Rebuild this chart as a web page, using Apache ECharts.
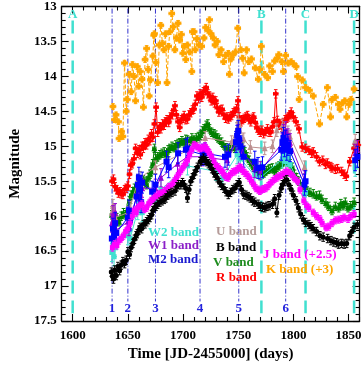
<!DOCTYPE html>
<html><head><meta charset="utf-8">
<script src="https://cdn.jsdelivr.net/npm/echarts@6/dist/echarts.min.js"></script>
<style>html,body{margin:0;padding:0;background:#fff}#c{width:364px;height:367px}</style>
</head><body><div id="c"></div>
<script>
// ---------- DATA ----------
const xTicks = [1600, 1650, 1700, 1750, 1800, 1850];
const yTicks = [13, 13.5, 14, 14.5, 15, 15.5, 16, 16.5, 17, 17.5];

const refLetters = ['A', 'B', 'C', 'D'];
const refDays = [1600, 1771, 1811, 1855];
const epochLabels = ['1', '2', '3', '4', '5', '6'];
const epochDays = [1635.7, 1650, 1675, 1715.4, 1750.5, 1793];

const bandNames = ['W2 band', 'W1 band', 'M2 band', 'U band', 'B band', 'V band', 'R band', 'J band (+2.5)', 'K band (+3)'];

// error sizes per band: [days, mag]
const errK = [2.5, 0.04];
const errR = [2.0, 0.06];
const errV = [1.5, 0.06];
const errB = [1.2, 0.06];
const errJ = [1.5, 0.05];
const errM2 = [0.8, 0.15];
const errW1 = [0.8, 0.13];
const errW2 = [0.8, 0.13];
const errU = [0.8, 0.09];

const kBand = [[1636.5,14.43],[1638.0,14.62],[1639.3,14.55],[1641.4,14.65],[1642.0,14.89],[1644.2,14.79],[1645.5,14.86],[1647.0,13.81],[1648.5,14.50],[1649.5,14.33],[1651.3,13.97],[1653.0,14.22],[1654.2,13.83],[1655.6,14.00],[1657.0,14.35],[1658.5,13.86],[1659.9,14.14],[1661.3,13.93],[1662.8,14.04],[1664.1,14.44],[1665.6,13.76],[1667.0,13.60],[1668.4,13.90],[1669.3,14.28],[1670.5,14.05],[1672.7,13.71],[1673.5,13.41],[1674.1,13.39],[1675.5,13.80],[1677.0,14.09],[1678.5,13.55],[1679.9,13.27],[1681.3,13.53],[1682.7,13.62],[1684.1,13.39],[1685.5,14.09],[1686.9,13.57],[1688.0,13.36],[1689.8,13.10],[1691.2,13.29],[1692.6,13.62],[1694.0,13.45],[1695.5,13.24],[1697.0,13.48],[1698.5,13.40],[1699.8,13.67],[1701.2,13.57],[1702.5,13.76],[1704.0,13.55],[1706.0,13.65],[1708.0,13.93],[1708.5,13.36],[1710.0,13.36],[1711.0,13.62],[1712.6,13.46],[1714.5,13.55],[1716.9,13.57],[1719.0,13.45],[1720.5,13.30],[1722.6,13.34],[1724.0,13.19],[1725.4,13.39],[1727.5,13.45],[1729.0,13.55],[1731.0,13.50],[1732.5,13.69],[1734.5,13.62],[1736.8,13.79],[1738.5,13.70],[1741.0,13.67],[1742.0,13.97],[1743.5,13.75],[1745.3,13.69],[1747.5,13.65],[1749.6,13.31],[1752.5,13.62],[1754.0,13.74],[1755.4,13.95],[1757.5,13.62],[1759.6,13.79],[1762.0,13.75],[1765.4,13.88],[1768.2,14.04],[1769.5,13.90],[1771.0,13.57],[1773.9,13.97],[1776.7,14.02],[1778.5,13.85],[1781.0,13.93],[1783.0,13.78],[1785.3,13.74],[1786.7,13.69],[1789.6,13.79],[1791.0,13.93],[1793.0,13.70],[1795.3,13.81],[1798.0,13.79],[1800.0,13.82],[1802.4,13.86],[1803.8,14.00],[1805.2,14.33],[1808.0,14.05],[1811.0,14.16],[1814.5,14.20],[1818.0,14.28],[1823.7,14.68],[1827.0,14.40],[1830.8,14.16],[1833.7,14.58],[1835.0,14.33],[1838.0,14.30],[1840.8,14.40],[1842.3,14.47],[1844.5,14.38],[1846.6,14.35],[1848.4,14.58],[1850.5,14.40],[1852.2,14.33],[1855.0,14.18]];

const rBand = [[1635.7,15.50],[1637,15.47],[1638.5,15.58],[1640,15.62],[1641.4,15.67],[1643,15.65],[1644,15.68],[1645.6,15.69],[1647,15.62],[1648.5,15.60],[1650,15.57],[1651.5,15.40],[1652.7,15.27],[1654,15.25],[1655.5,15.18],[1657,15.03],[1658.5,15.10],[1660,15.05],[1661.3,15.12],[1662.8,15.00],[1664,15.03],[1665.5,14.95],[1667,14.98],[1668.5,14.90],[1670,14.92],[1671.5,14.82],[1672.7,14.87],[1674,14.68],[1675.6,14.44],[1677,14.80],[1678.5,14.72],[1680,14.75],[1681.5,14.68],[1683,14.70],[1684,14.65],[1685.5,14.62],[1687,14.66],[1688.5,14.58],[1690,14.55],[1691.5,14.48],[1692.7,14.42],[1694,14.55],[1695.5,14.65],[1697,14.73],[1698.5,14.62],[1700,14.60],[1701,14.56],[1702.5,14.62],[1704,14.61],[1705.5,14.55],[1707,14.52],[1708.5,14.48],[1709.8,14.47],[1711,14.40],[1712.6,14.28],[1714,14.32],[1715.5,14.25],[1717,14.30],[1718.5,14.22],[1720,14.20],[1721,14.16],[1722.5,14.25],[1724,14.28],[1725.5,14.35],[1727,14.30],[1728.5,14.38],[1729.7,14.35],[1731,14.45],[1732.5,14.51],[1734,14.48],[1735.4,14.47],[1737,14.55],[1738.5,14.60],[1740,14.58],[1741,14.61],[1742.5,14.58],[1744,14.56],[1745.5,14.52],[1747,14.50],[1748.5,14.46],[1749.8,14.35],[1751,14.58],[1752.5,14.65],[1754,14.62],[1755.5,14.60],[1757,14.58],[1758.5,14.56],[1760,14.62],[1761.5,14.65],[1763,14.60],[1764,14.58],[1765.5,14.66],[1767,14.74],[1768.5,14.77],[1770,14.80],[1771.5,14.77],[1773,14.82],[1775,14.79],[1776.5,14.75],[1778,14.80],[1779.5,14.80],[1781,14.72],[1782.5,14.65],[1784,14.25],[1785.5,14.63],[1786.7,14.70],[1788,14.68],[1789.6,14.73],[1791,14.66],[1792.5,14.62],[1794,14.60],[1795.5,14.58],[1797,14.55],[1798,14.51],[1800,14.58],[1802.4,14.65],[1805,14.75],[1808,15.01],[1811,15.03],[1814,15.06],[1816.6,15.10],[1818,15.08],[1821,15.15],[1823.7,15.22],[1826.6,15.20],[1829,15.26],[1830.8,15.24],[1833.8,15.29],[1835,15.31],[1838,15.33],[1840,15.32],[1843.7,15.36],[1846,15.40],[1848,15.43],[1851,15.22],[1855,15.03],[1859,14.98]];

const vBand = [[1635.5,15.98],[1637,16.05],[1638.5,16.10],[1640,16.02],[1642,16.08],[1644,16.00],[1646,15.95],[1648,15.98],[1650,15.90],[1651.5,15.78],[1653,15.70],[1654.5,15.65],[1656,15.60],[1657.5,15.62],[1659,15.52],[1660.5,15.55],[1662,15.48],[1664,15.48],[1665.5,15.50],[1667,15.55],[1668.5,15.45],[1670,15.40],[1671,15.36],[1672.5,15.25],[1674,15.03],[1675.5,15.18],[1677,15.15],[1679,15.12],[1681,15.10],[1683,15.08],[1685,15.12],[1686.5,15.05],[1688,15.03],[1690,15.00],[1692,15.02],[1693.5,14.98],[1695.5,14.96],[1697,14.95],[1699,14.92],[1701,14.95],[1702.5,14.90],[1704,14.91],[1706,14.93],[1708,14.88],[1710,14.91],[1712,14.88],[1714,14.86],[1715.7,14.84],[1717.5,14.78],[1719,14.75],[1721,14.70],[1722.5,14.68],[1724,14.75],[1726,14.80],[1728,14.82],[1729.7,14.84],[1731.5,14.88],[1733,14.90],[1735,14.94],[1737,14.98],[1739,15.02],[1741,15.05],[1743,15.02],[1745,15.00],[1746.8,15.03],[1748.5,15.00],[1750,14.96],[1752,15.00],[1754,15.01],[1756,15.08],[1758,15.15],[1760,15.20],[1762,15.25],[1764,15.30],[1766,15.32],[1768,15.36],[1769.6,15.36],[1771.5,15.40],[1773.5,15.38],[1775.5,15.35],[1777.5,15.33],[1779,15.32],[1781,15.31],[1783,15.35],[1785,15.30],[1787,15.28],[1789,15.25],[1791,15.22],[1793,15.20],[1795,15.22],[1797,15.25],[1799,15.30],[1801,15.40],[1803,15.45],[1805,15.50],[1808,15.58],[1810,15.60],[1812.5,15.64],[1815,15.66],[1818,15.68],[1821,15.71],[1823.7,15.70],[1826,15.76],[1829.5,15.81],[1832,15.86],[1835,15.92],[1838,15.86],[1841,15.88],[1843,15.82],[1845,15.85],[1847,15.80],[1849.5,15.88],[1852,15.85],[1855,15.80]];

const bBand = [[1635,16.80],[1636,16.86],[1637,16.90],[1638,16.77],[1639.5,16.85],[1641,16.72],[1642.5,16.78],[1644,16.70],[1645.5,16.65],[1647,16.68],[1648.5,16.63],[1650,16.51],[1651.5,16.55],[1653,16.45],[1654.5,16.39],[1656,16.33],[1657.5,16.28],[1658.5,16.25],[1660,16.20],[1661,16.16],[1662.5,16.18],[1664,16.12],[1665.6,16.11],[1667,16.08],[1668.5,16.05],[1670,16.02],[1671.5,15.98],[1672.7,15.92],[1674,15.88],[1675.5,15.86],[1677,15.83],[1679,15.80],[1681,15.78],[1683,15.76],[1684.5,15.74],[1686,15.70],[1688,15.68],[1690,15.66],[1692.7,15.64],[1694.5,15.58],[1696,15.55],[1698,15.55],[1699.5,15.52],[1701,15.55],[1702.5,15.60],[1704,15.74],[1705.5,15.62],[1707,15.50],[1708.5,15.45],[1710,15.40],[1711.5,15.35],[1713,15.30],[1715.5,15.22],[1717,15.20],[1718.5,15.17],[1720,15.20],[1721.5,15.22],[1723,15.25],[1724.5,15.27],[1726,15.32],[1728,15.38],[1729.5,15.42],[1731,15.45],[1733,15.52],[1735,15.56],[1737,15.60],[1739,15.65],[1741,15.69],[1743,15.66],[1745,15.62],[1747,15.60],[1749,15.55],[1751,15.52],[1753,15.62],[1755,15.69],[1757,15.70],[1759,15.72],[1761,15.74],[1763,15.78],[1765,15.80],[1768,15.83],[1770,15.86],[1772,15.87],[1774,15.88],[1776,15.86],[1778,15.85],[1781,15.83],[1783,15.75],[1785,15.95],[1787,15.70],[1789,15.60],[1790,15.55],[1792,15.50],[1794,15.48],[1796,15.55],[1798,15.62],[1800,15.70],[1802.4,15.78],[1804.5,15.88],[1806.6,15.97],[1809,16.05],[1811,16.09],[1814,16.12],[1816,16.15],[1818,16.18],[1821,16.22],[1824,16.28],[1827,16.30],[1831,16.32],[1834,16.35],[1836.6,16.37],[1839,16.38],[1841,16.40],[1843.7,16.39],[1846,16.40],[1848.3,16.39],[1851,16.28],[1853,16.22],[1855,16.16],[1858,16.12]];

const jBand = [[1636,16.45],[1638,16.40],[1640,16.42],[1642,16.35],[1644,16.32],[1646,16.28],[1648,16.22],[1650,16.18],[1652,16.10],[1654,16.00],[1655.8,15.92],[1657.5,15.95],[1659,15.88],[1661,15.85],[1662.8,15.83],[1665,15.90],[1667,15.88],[1669,15.82],[1671,15.78],[1672.7,15.76],[1675,15.72],[1677,15.70],[1679,15.68],[1681,15.67],[1683,15.64],[1685,15.62],[1687,15.58],[1690,15.55],[1692,15.50],[1694,15.45],[1696,15.40],[1698,15.35],[1700,15.30],[1702,15.25],[1704,15.20],[1706,15.12],[1708,15.05],[1710,14.98],[1712,15.00],[1714,15.02],[1715.7,15.03],[1718,15.02],[1720,15.00],[1721,15.03],[1722.5,15.06],[1724,15.10],[1726,15.15],[1728,15.22],[1730,15.28],[1732,15.30],[1734,15.34],[1735.4,15.36],[1737,15.40],[1739,15.44],[1741,15.45],[1743,15.40],[1745,15.37],[1747,15.36],[1749,15.33],[1751,15.30],[1752.5,15.31],[1754,15.35],[1756,15.38],[1758,15.41],[1760,15.45],[1762,15.50],[1764,15.55],[1766,15.60],[1768,15.62],[1769.6,15.64],[1771,15.62],[1773,15.61],[1775,15.60],[1777,15.57],[1779,15.53],[1781,15.50],[1783,15.47],[1785,15.45],[1787,15.43],[1789.6,15.41],[1792,15.38],[1794,15.36],[1796.6,15.38],[1799,15.42],[1801,15.46],[1803.8,15.50],[1806,15.62],[1809.5,15.78],[1812,15.85],[1814,15.88],[1818,15.95],[1821,16.00],[1824,16.04],[1826,16.10],[1829.5,16.16],[1832,16.15],[1835,16.10],[1838,16.06],[1841,16.05],[1843.7,16.04],[1846,16.02],[1849.5,16.04],[1852,16.00],[1855,15.97]];

const m2Band = [[1635.5,16.32],[1636.5,16.18],[1637.5,16.28],[1638.5,16.10],[1639.5,16.24],[1650,16.02],[1651,15.92],[1652,16.06],[1658,15.72],[1659,15.55],[1660,15.45],[1661,15.62],[1662,15.80],[1663,15.52],[1672,15.65],[1675,15.55],[1685,15.22],[1687,15.30],[1695.5,15.10],[1702.6,15.05],[1704,15.03],[1718,15.12],[1720,15.10],[1738,15.15],[1741,15.12],[1748,14.94],[1749,14.85],[1750,14.78],[1751,14.90],[1752,15.00],[1755,15.15],[1765,15.22],[1768,15.31],[1772,15.30],[1789,15.05],[1790,14.95],[1791,14.88],[1792,15.00],[1793,14.92],[1794,15.05],[1795,14.98],[1797,15.07],[1810,15.55],[1811,15.50],[1856,15.20],[1858,15.15]];

const w1Band = [[1635.5,16.10],[1636.5,15.98],[1637.5,16.15],[1638.5,15.95],[1639.5,16.20],[1650,16.08],[1651,16.15],[1652,16.05],[1659,15.65],[1661,15.72],[1663,15.60],[1675,15.60],[1680,15.45],[1695,15.25],[1704,15.15],[1718,15.15],[1740,15.20],[1749,14.92],[1750,14.82],[1751,14.90],[1753,15.05],[1765,15.32],[1770,15.35],[1790,14.95],[1791,14.82],[1793,14.78],[1795,14.88],[1797,14.95],[1810,15.48],[1856,15.10],[1858,15.05]];

const w2Band = [[1635.5,16.52],[1636.5,16.40],[1637.5,16.58],[1638.5,16.45],[1639.5,16.35],[1650,16.28],[1651,16.20],[1652,16.32],[1659,15.92],[1661,15.85],[1663,15.95],[1675,15.78],[1680,15.62],[1704,15.28],[1730,15.36],[1736,15.45],[1749,15.12],[1750,15.05],[1752,15.18],[1765,15.42],[1770,15.45],[1790,15.18],[1791,15.10],[1793,15.22],[1795,15.15],[1797,15.26],[1810,15.70],[1811,15.66],[1856,15.30]];

const uBand = [[1635.5,15.95],[1636.5,15.85],[1637.5,15.92],[1638.5,16.02],[1650,15.95],[1652,15.88],[1659,15.50],[1661,15.45],[1675,15.30],[1705,15.05],[1720,14.88],[1744,14.94],[1749,14.75],[1750,14.63],[1751,14.70],[1755,14.90],[1761,15.01],[1774,15.03],[1781,15.00],[1785,14.77],[1790,14.70],[1792,14.74],[1795,14.80],[1797,14.86],[1810,15.30],[1856,14.92]];

// ---------- STYLE / BUILD ----------
const FONT = '"Liberation Serif", "Times New Roman", serif';
const C = {W2:'#40E0D0', W1:'#9400D3', M2:'#0000FF', U:'#BC8F8F', B:'#000000', V:'#008000', R:'#FF0000', J:'#FF00FF', K:'#FFA500'};
const CYAN = '#40E0D0', EPOCH = '#3333CC';

function minorVals(a, b, step, skip) {
  const out = [];
  for (let v = a; v <= b + 1e-9; v += step) {
    const r = Math.round(v * 100) / 100;
    if (!skip.some(s => Math.abs(s - r) < 1e-6)) out.push(r);
  }
  return out;
}
const xMinor = minorVals(1590, 1860, 10, xTicks);
const yMinor = minorVals(13, 17.5, 0.1, yTicks);

// break connecting line where the time gap is large
function withGaps(pts, maxGap) {
  const out = [];
  pts.forEach((p, i) => {
    if (i > 0 && p[0] - pts[i - 1][0] > maxGap) out.push([(p[0] + pts[i - 1][0]) / 2, '-']);
    out.push(p);
  });
  return out;
}

function errSeries(pts, err, color, z) {
  return {
    type: 'custom', z: z, silent: true, animation: false, clip: true,
    xAxisIndex: 0, yAxisIndex: 0,
    encode: {x: 0, y: 1},
    data: pts.map(p => [p[0], p[1], err[0], err[1]]),
    renderItem: function (params, api) {
      const x = api.value(0), y = api.value(1), ex = api.value(2), ey = api.value(3);
      const c = api.coord([x, y]);
      const t = api.coord([x, y - ey]), b = api.coord([x, y + ey]);
      const l = api.coord([x - ex, y]), r = api.coord([x + ex, y]);
      const cap = 1.8;
      const st = {stroke: color, lineWidth: 1};
      return {type: 'group', children: [
        {type: 'line', shape: {x1: c[0], y1: t[1], x2: c[0], y2: b[1]}, style: st},
        {type: 'line', shape: {x1: c[0] - cap, y1: t[1], x2: c[0] + cap, y2: t[1]}, style: st},
        {type: 'line', shape: {x1: c[0] - cap, y1: b[1], x2: c[0] + cap, y2: b[1]}, style: st},
        {type: 'line', shape: {x1: l[0], y1: c[1], x2: r[0], y2: c[1]}, style: st},
        {type: 'line', shape: {x1: l[0], y1: c[1] - cap, x2: l[0], y2: c[1] + cap}, style: st},
        {type: 'line', shape: {x1: r[0], y1: c[1] - cap, x2: r[0], y2: c[1] + cap}, style: st}
      ]};
    }
  };
}
function lineSeries(pts, color, symbol, size, dash, z, maxGap) {
  return {
    type: 'line', z: z, silent: true, animation: false, connectNulls: false,
    xAxisIndex: 0, yAxisIndex: 0,
    data: withGaps(pts, maxGap), symbol: symbol, symbolSize: size, showSymbol: true,
    lineStyle: {color: color, width: 1, type: dash ? [4, 2] : 'solid'},
    itemStyle: {color: color, borderWidth: 0}
  };
}

const bands = [
  [kBand, errK, C.K, 'diamond', 7, true, 100],
  [rBand, errR, C.R, 'diamond', 6, false, 100],
  [vBand, errV, C.V, 'triangle', 6, false, 100],
  [uBand, errU, C.U, 'triangle', 6, false, 30],
  [w2Band, errW2, C.W2, 'rect', 5, false, 30],
  [w1Band, errW1, C.W1, 'triangle', 6, false, 30],
  [m2Band, errM2, C.M2, 'rect', 6, false, 30],
  [jBand, errJ, C.J, 'rect', 5, true, 100],
  [bBand, errB, C.B, 'circle', 5, false, 100]
];
const series = [];
bands.forEach((b, i) => {
  series.push(errSeries(b[0], b[1], b[2], 2 + i * 2));
  series.push(lineSeries(b[0], b[2], b[3], b[4], b[5], 3 + i * 2, b[6]));
});

// reference lines (A-D) and epoch lines (1-6)
series.push({
  type: 'custom', z: 1, silent: true, animation: false, xAxisIndex: 0, yAxisIndex: 0,
  encode: {x: 0},
  data: refDays.map((d, i) => [d, i]),
  renderItem: function (params, api) {
    const d = api.value(0);
    const top = api.coord([d, 13.2]), bot = api.coord([d, 17.39]), lab = api.coord([d, 13.12]);
    return {type: 'group', children: [
      {type: 'line', shape: {x1: top[0], y1: top[1], x2: bot[0], y2: bot[1]},
       style: {stroke: CYAN, lineWidth: 2.5, lineDash: [13, 7]}},
      {type: 'text', x: lab[0], y: lab[1],
       style: {text: refLetters[api.value(1)], fill: CYAN, font: 'bold 13px ' + FONT,
               align: 'center', verticalAlign: 'middle', textAlign: 'center', textVerticalAlign: 'middle'}}
    ]};
  }
});
series.push({
  type: 'custom', z: 1, silent: true, animation: false, xAxisIndex: 0, yAxisIndex: 0,
  encode: {x: 0},
  data: epochDays.map((d, i) => [d, i]),
  renderItem: function (params, api) {
    const d = api.value(0);
    const top = api.coord([d, 13.03]), bot = api.coord([d, 17.22]), lab = api.coord([d, 17.33]);
    return {type: 'group', children: [
      {type: 'line', shape: {x1: top[0], y1: top[1], x2: bot[0], y2: bot[1]},
       style: {stroke: EPOCH, lineWidth: 1, lineDash: [5, 2, 1, 2]}},
      {type: 'text', x: lab[0], y: lab[1],
       style: {text: epochLabels[api.value(1)], fill: '#2222DD', font: 'bold 13px ' + FONT,
               align: 'center', verticalAlign: 'middle', textAlign: 'center', textVerticalAlign: 'middle'}}
    ]};
  }
});

// band name labels
const labelColors = [C.W2, '#8B1FC8', '#1A1AD0', '#B59C9A', '#000', '#1E8C1E', C.R, C.J, C.K];
const labelPos = [[148,233],[148,246],[148,260],[216,232],[216,248],[213,263],[216,278],[263,255],[266,270]];
const graphics = bandNames.map((t, i) => ({
  type: 'text', x: labelPos[i][0], y: labelPos[i][1], z: 100, silent: true,
  style: {text: t, fill: labelColors[i], font: 'bold 13px ' + FONT,
          align: 'left', verticalAlign: 'middle', textAlign: 'left', textVerticalAlign: 'middle'}
}));

const axisLineStyle = {color: '#000', width: 1.3};
const tickStyle = {color: '#000', width: 1.1};
function xAx(pos, major, withLabel) {
  return {
    type: 'value', position: pos, min: 1590, max: 1860,
    axisLine: {show: major, onZero: false, lineStyle: axisLineStyle},
    axisTick: {show: true, inside: true, length: major ? 7 : 4, customValues: major ? xTicks : xMinor, lineStyle: tickStyle},
    axisLabel: withLabel ? {show: true, customValues: xTicks, formatter: v => String(v), color: '#000', fontFamily: FONT, fontWeight: 'bold', fontSize: 13, margin: 8} : {show: false},
    splitLine: {show: false},
    name: withLabel ? 'Time [JD-2455000] (days)' : '', nameLocation: 'middle', nameGap: 26,
    nameTextStyle: {color: '#000', fontFamily: FONT, fontWeight: 'bold', fontSize: 15}
  };
}
function yAx(pos, major, withLabel) {
  return {
    type: 'value', position: pos, min: 13, max: 17.5, inverse: true,
    axisLine: {show: major, onZero: false, lineStyle: axisLineStyle},
    axisTick: {show: true, inside: true, length: major ? 7 : 4, customValues: major ? yTicks : yMinor, lineStyle: tickStyle},
    axisLabel: withLabel ? {show: true, customValues: yTicks, formatter: v => String(v), color: '#000', fontFamily: FONT, fontWeight: 'bold', fontSize: 13, margin: 5} : {show: false},
    splitLine: {show: false},
    name: withLabel ? 'Magnitude' : '', nameLocation: 'middle', nameGap: 29, nameRotate: 90,
    nameTextStyle: {color: '#000', fontFamily: FONT, fontWeight: 'bold', fontSize: 15}
  };
}

const chart = echarts.init(document.getElementById('c'), null, {renderer: 'canvas'});
chart.setOption({
  backgroundColor: '#fff',
  animation: false,
  grid: {left: 46, right: 2, top: 6, bottom: 41, containLabel: false},
  xAxis: [xAx('bottom', true, true), xAx('bottom', false, false), xAx('top', true, false), xAx('top', false, false)],
  yAxis: [yAx('left', true, true), yAx('left', false, false), yAx('right', true, false), yAx('right', false, false)],
  series: series,
  graphic: graphics
});
</script></body></html>
